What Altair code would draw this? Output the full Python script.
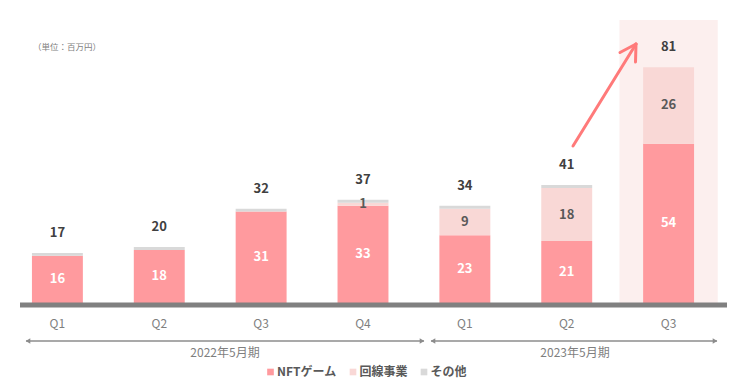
import altair as alt
import pandas as pd

FONT = "Noto Sans CJK JP"

periods = ["22Q1", "22Q2", "22Q3", "22Q4", "23Q1", "23Q2", "23Q3"]
nft = [16, 18, 31, 33, 23, 21, 54]
line_biz = [0, 0, 0, 1, 9, 18, 26]
other = [1, 1, 1, 1, 1, 1, 0]
totals = [17, 20, 32, 37, 34, 41, 81]
segments = ["NFTゲーム", "回線事業", "その他"]
colors = ["#ff9a9e", "#f9d8d6", "#d9d9d9"]
text_colors = ["#ffffff", "#595959", "#595959"]
years = ["2022年5月期", "2023年5月期"]
unit_label = "（単位：百万円）"

rows = []
for i, p in enumerate(periods):
    start = 0
    for s, vals in enumerate([nft, line_biz, other]):
        v = vals[i]
        if v > 0:
            rows.append({
                "period": p, "segment": segments[s], "value": v,
                "y0": start, "y1": start + v, "mid": start + v / 2,
                "label": str(v) if s < 2 else "",
                "tcolor": text_colors[s],
            })
        start += v
seg_df = pd.DataFrame(rows)
tot_df = pd.DataFrame({
    "period": periods,
    "total": totals,
    "top": [a + b + c for a, b, c in zip(nft, line_biz, other)],
})

y_scale = alt.Scale(domain=[0, 96], nice=False, zero=True)
x_enc = alt.X(
    "period:N",
    scale=alt.Scale(domain=periods, paddingInner=0.5, paddingOuter=0.235),
    axis=alt.Axis(title=None, domain=False, ticks=False, grid=False,
                  labelAngle=0, labelExpr="substring(datum.label, 2)",
                  labelPadding=15, labelFontSize=12, labelColor="#7f7f7f",
                  labelFont=FONT),
)

one = pd.DataFrame({"k": [0]})

highlight = alt.Chart(pd.DataFrame({"period": ["23Q3"], "top": [96]})).mark_bar(
    color="#fcefee", width=alt.RelativeBandSize(1.93)
).encode(x=x_enc, y=alt.Y("top:Q", scale=y_scale, axis=None))

bars = alt.Chart(seg_df).mark_bar().encode(
    x=x_enc,
    y=alt.Y("y0:Q", scale=y_scale, axis=None),
    y2="y1:Q",
    color=alt.Color("segment:N", scale=alt.Scale(domain=segments, range=colors),
                    legend=None),
)

seg_text = alt.Chart(seg_df).mark_text(
    font=FONT, fontSize=13, fontWeight="bold", baseline="middle"
).encode(
    x=x_enc,
    y=alt.Y("mid:Q", scale=y_scale, axis=None),
    text="label:N",
    color=alt.Color("tcolor:N", scale=None),
)

tot_text = alt.Chart(tot_df).mark_text(
    font=FONT, fontSize=13, fontWeight="bold", baseline="middle", dy=-20,
    color="#404040"
).encode(
    x=x_enc,
    y=alt.Y("top:Q", scale=y_scale, axis=None),
    text="total:Q",
)

baseline = alt.Chart(one).mark_rule(strokeWidth=5, color="#808080").encode(
    x=alt.value(12), x2=alt.value(719), y=alt.value(285)
)

def hrule(x1, x2, y):
    return alt.Chart(one).mark_rule(strokeWidth=1.5, color="#8c8c8c").encode(
        x=alt.value(x1), x2=alt.value(x2), y=alt.value(y))

def head(x, y, shape):
    return alt.Chart(one).mark_point(shape=shape, filled=True, size=28,
                                     color="#8c8c8c", opacity=1).encode(
        x=alt.value(x), y=alt.value(y))

arrows = [
    hrule(18, 416, 321), head(20, 321, "triangle-left"), head(414, 321, "triangle-right"),
    hrule(423, 709, 321), head(425, 321, "triangle-left"), head(707, 321, "triangle-right"),
]

year_text = [
    alt.Chart(one).mark_text(font=FONT, fontSize=12, color="#7f7f7f").encode(
        x=alt.value(217), y=alt.value(333), text=alt.value(years[0])),
    alt.Chart(one).mark_text(font=FONT, fontSize=12, color="#7f7f7f").encode(
        x=alt.value(567), y=alt.value(333), text=alt.value(years[1])),
]

unit = alt.Chart(one).mark_text(font=FONT, fontSize=8.5, color="#7f7f7f",
                                align="left").encode(
    x=alt.value(25), y=alt.value(27), text=alt.value(unit_label))

def red(x1, y1, x2, y2):
    return alt.Chart(one).mark_rule(strokeWidth=3, color="#ff7a7a",
                                    strokeCap="round").encode(
        x=alt.value(x1), y=alt.value(y1), x2=alt.value(x2), y2=alt.value(y2))

red_arrow = [
    red(565, 126, 628, 24),
    red(628, 24, 612, 32.5),
    red(628, 24, 627.5, 42),
]

# legend drawn by hand: square + label per segment
legend_sq_x = [262.5, 345, 416]
legend_y = 352
legend_layers = []
for name, col, sx in zip(segments, colors, legend_sq_x):
    legend_layers.append(
        alt.Chart(one).mark_square(size=44, color=col, opacity=1).encode(
            x=alt.value(sx), y=alt.value(legend_y)))
    legend_layers.append(
        alt.Chart(one).mark_text(font=FONT, fontSize=12, fontWeight="bold",
                                 color="#595959", align="left",
                                 baseline="middle").encode(
            x=alt.value(sx + 6.5), y=alt.value(legend_y), text=alt.value(name)))

chart = alt.layer(
    highlight, bars, seg_text, tot_text, baseline, *arrows, *year_text, unit,
    *red_arrow, *legend_layers
).properties(
    width=710, height=283,
    autosize=alt.AutoSizeParams(type="none"),
    padding={"left": 0, "top": 12, "right": 9, "bottom": 75},
).configure_view(stroke=None)

chart.save("out.html", embed_options={"renderer": "svg", "actions": False})
